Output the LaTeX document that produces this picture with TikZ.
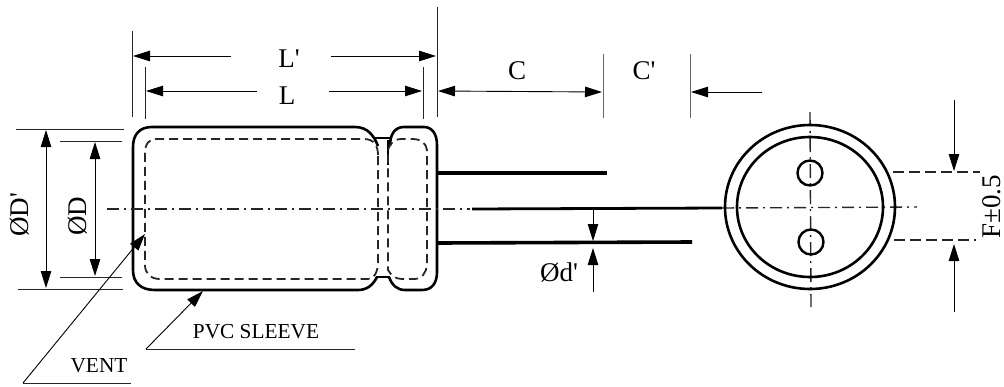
\documentclass[tikz,border=0pt]{standalone}
\usepackage{fontspec}
\newfontfamily\plainserif{Liberation Serif}
\usetikzlibrary{arrows.meta}
\tikzset{
  tip/.tip={Stealth[length=17pt,width=10.5pt,inset=0pt]},
  dim/.style={line width=0.9pt,-tip},
  dimboth/.style={line width=0.9pt,tip-tip},
  ext/.style={line width=1pt,draw=black!85},
  body/.style={line width=2.6pt,line join=round},
  hid/.style={line width=1.8pt,dash pattern=on 9pt off 5pt,draw=black!85},
  center/.style={line width=1.4pt,dash pattern=on 12pt off 5pt on 2pt off 5pt,draw=black!85},
  lead/.style={line width=3.6pt},
  big/.style={font=\plainserif\fontsize{27}{27}\selectfont,inner sep=0pt},
  small/.style={font=\plainserif\fontsize{21.3}{21.3}\selectfont,inner sep=0pt},
  hdash/.style={line width=1.5pt,dash pattern=on 11pt off 5pt,draw=black!85},
}
\begin{document}
\begin{tikzpicture}[x=1pt,y=-1pt]
\useasboundingbox (0,0) rectangle (1004,386);
% labels
\node[big] (lp) at (289,59) {L'};
\node[big] (l) at (287,96) {L};
\node[big] (c) at (517,71) {C};
\node[big] (cp) at (644,71) {C'};
\node[big,rotate=90] (dp) at (20,215) {ØD'};
\node[big,rotate=90] (d) at (78,216) {ØD};
\node[big] (dl) at (559,272) {Ød'};
\node[big,rotate=90,anchor=base] (f) at (1000,207) {F±0.5};
\node[small] (vent) at (99,366) {VENT};
\node[small] (pvc) at (256,332) {PVC SLEEVE};
% coordinates
\foreach \n/\x/\y in {
 a1/132/31,a2/132/117,b1/437/7,b2/437/117,e1/145/67,e2/145/119,g1/423/67,g2/423/119,
 h1/603/54,h2/603/118,i1/690/54,i2/690/118,
 la/231/56,lat/133/56,lb/331/56,lbt/436/56,
 ma/257/91,mat/146/91,mb/329/91,mbt/422/91,
 cl/438/91,cr/602/92,
 cq/762/92,cqt/691/92,
 t1/16/129,t2/124/129,u1/18/289,u2/123/289,v1/60/141,v2/122/141,w1/60/277,w2/122/277,
 dt1/46/130,dt2/46/288,et1/95/142,et2/95/276,
 va/131/383,vb/23/383,vt/145/234,pa/355/349,pb/146/349,pt/203/291,
 oa/593/210,ot/593/241,ob/593/292,ou/593/248,
 fa/954/100,ft/954/171,fb/954/312,fv/954/244,
 f1/893/172,f2/980/172,f3/894/240,f4/976/240,
 cl1/107/209,cl2/470/209,cl3/722/208,cl4/917/207,
 vc1/810/112,vc2/811/307,
 la1/438/173,la2/607/173,lb1/438/243,lb2/692/242,lc1/472/209,lc2/722/208,
 hc1/810/207,ht/810/173,hb/811/242}
 {\coordinate (\n) at (\x,\y);}
% extension lines
\draw[ext] (a1)--(a2);
\draw[ext] (b1)--(b2);
\draw[ext] (e1)--(e2);
\draw[ext] (g1)--(g2);
\draw[ext,draw=black!60] (h1)--(h2);
\draw[ext,draw=black!60] (i1)--(i2);
\draw[ext] (t1)--(t2);
\draw[ext] (u1)--(u2);
\draw[ext] (v1)--(v2);
\draw[ext] (w1)--(w2);
% dimension arrows
\draw[dim] (la)--(lat);
\draw[dim] (lb)--(lbt);
\draw[dim] (ma)--(mat);
\draw[dim] (mb)--(mbt);
\draw[dimboth] (cl)--(cr);
\draw[dim] (cq)--(cqt);
\draw[dimboth] (dt1)--(dt2);
\draw[dimboth] (et1)--(et2);
\draw[dim] (oa)--(ot);
\draw[dim] (ob)--(ou);
\draw[dim] (fa)--(ft);
\draw[dim] (fb)--(fv);
% leaders
\draw[ext] (va)--(vb);
\draw[dim] (vb)--(vt);
\draw[ext] (pa)--(pb);
\draw[dim] (pb)--(pt);
% body
\draw[body] (378,146) .. controls (374,136) and (368,127) .. (355,127) -- (152,127)
  .. controls (140,127) and (133,134) .. (133,147) -- (133,270)
  .. controls (133,283) and (141,290) .. (155,290) -- (358,290)
  .. controls (367,290) and (373,285) .. (377,277);
\draw[body] (390,146) .. controls (390,134) and (395,127) .. (404,127) -- (424,127)
  .. controls (432,127) and (437,134) .. (437,145) -- (437,272)
  .. controls (437,283) and (432,290) .. (422,290) -- (405,290)
  .. controls (397,290) and (392,285) .. (389,277);
\draw[line width=2.2pt] (375,138)--(390,138);
\draw[line width=2.2pt] (376,277)--(390,277);
\draw[line width=1.6pt] (388,140)--(388,165);
% hidden lines
\draw[hid] (378,155) .. controls (378,146) and (374,139) .. (364,139) -- (156,139)
  .. controls (149,139) and (145,144) .. (145,153) -- (145,265)
  .. controls (145,273) and (150,279) .. (160,279) -- (368,279)
  .. controls (374,279) and (378,272) .. (378,262) -- cycle;
\draw[hid] (388,150) .. controls (390,143) and (394,139) .. (402,139) -- (412,139)
  .. controls (421,139) and (426,143) .. (427,150) -- (427,265)
  .. controls (426,273) and (422,279) .. (414,279) -- (402,279)
  .. controls (395,279) and (391,275) .. (388,270) -- cycle;
% centre lines
\draw[center] (cl1)--(cl2);
\draw[center] (cl3)--(cl4);
\draw[center,dash pattern=on 14pt off 5pt on 2pt off 5pt] (vc1)--(vc2);
% leads
\draw[lead] (la1)--(la2);
\draw[lead] (lb1)--(lb2);
\draw[line width=2.8pt] (lc1)--(lc2);
% end view
\draw[line width=2.6pt] (hc1) ellipse [x radius=85,y radius=82];
\draw[line width=2.6pt] (hc1) ellipse [x radius=73,y radius=70];
\draw[line width=2.4pt] (ht) circle [radius=12.5];
\draw[line width=2.4pt] (hb) circle [radius=12.5];
% F dashes
\draw[hdash] (f1)--(f2);
\draw[hdash] (f3)--(f4);
\end{tikzpicture}
\end{document}
